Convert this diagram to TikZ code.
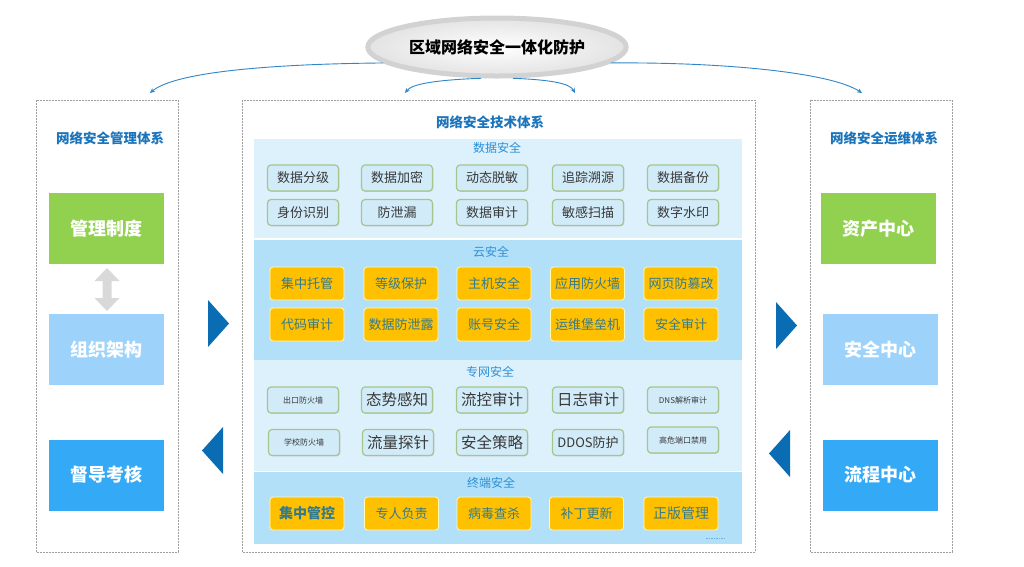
\documentclass[tikz,border=0pt]{standalone}
\usepackage{fontspec}
\setmainfont{Noto Sans CJK SC}
\usetikzlibrary{shapes.geometric,arrows.meta,shadows}
\definecolor{panelblue}{HTML}{1B75BC}
\definecolor{sectitle}{HTML}{2D8FD5}
\definecolor{databg}{HTML}{DDF1FC}
\definecolor{cloudbg}{HTML}{B3E0F9}
\definecolor{sboxfill}{HTML}{D2EBF9}
\definecolor{sboxline}{HTML}{A4C58C}
\definecolor{orangefill}{HTML}{FFC000}
\definecolor{orangetext}{HTML}{357A8A}
\definecolor{greenbox}{HTML}{92D050}
\definecolor{lightbluebox}{HTML}{9DD3FB}
\definecolor{bluebox}{HTML}{34A9F5}
\definecolor{tri}{HTML}{0A6DB3}
\definecolor{curve}{HTML}{2E86C8}
\tikzset{
  dashbox/.style={draw=gray!75, line width=0.8pt, dash pattern=on 1.6pt off 1.4pt},
  paneltitle/.style={font=\fontsize{13.5}{15}\selectfont\bfseries, text=panelblue},
  sectitlestyle/.style={font=\fontsize{12}{14}\selectfont, text=sectitle},
  bigbox/.style={minimum width=115pt, minimum height=71pt, inner sep=0pt, text=white, font=\fontsize{18}{20}\selectfont\bfseries},
  sbox/.style={rounded corners=3.5pt, fill=sboxfill, draw=sboxline, line width=1.2pt, minimum width=71pt, minimum height=26pt, inner sep=0pt, text=black!78, font=\fontsize{13}{15}\selectfont, drop shadow={shadow xshift=0.8pt, shadow yshift=-0.8pt, opacity=0.25}},
  tinytext/.style={font=\fontsize{8}{9}\selectfont},
  obox/.style={rounded corners=3pt, fill=orangefill, draw=yellow!30, line width=0.8pt, minimum width=74pt, minimum height=33pt, inner sep=0pt, text=orangetext, font=\fontsize{13}{15}\selectfont},
  curvearrow/.style={draw=curve, line width=0.9pt, -{Stealth[length=5pt,width=4.5pt]}},
}
\begin{document}
\begin{tikzpicture}[x=1pt,y=-1pt]
\useasboundingbox (0,0) rectangle (1024,566);
\fill[white] (0,0) rectangle (1024,566);

% top ellipse
\node[ellipse, minimum width=228pt, minimum height=58pt, draw=gray!35, line width=5pt, inner color=white, outer color=gray!22, font=\fontsize{16}{18}\selectfont\bfseries, text=black] (top) at (497,47) {区域网络安全一体化防护};

% dashed panels
\draw[dashbox] (36,100) rectangle (178,552);
\draw[dashbox] (242,100) rectangle (755,552);
\draw[dashbox] (810,100) rectangle (952,552);

\coordinate (la) at (150,93);
\coordinate (ra) at (862,93);
\coordinate (ca) at (405,93);
\coordinate (cb) at (575,93);
\draw[curvearrow] (top.188) .. controls (270,64) and (175,72) .. (la);
\draw[curvearrow] (top.-8) .. controls (720,62) and (830,72) .. (ra);
\draw[curvearrow] (top.243) .. controls (435,80) and (412,84) .. (ca);
\draw[curvearrow] (top.-63) .. controls (555,80) and (570,84) .. (cb);

% left panel
\node[paneltitle] (lt) at (110,138) {网络安全管理体系};
\node[bigbox, fill=greenbox] (l1) at (106,228.5) {管理制度};
\node[bigbox, fill=lightbluebox] (l2) at (106,349.5) {组织架构};
\node[bigbox, fill=bluebox] (l3) at (106,475) {督导考核};
\fill[gray!30] (107,268) -- (119.5,281) -- (111.5,281) -- (111.5,298) -- (119.5,298) -- (107,311) -- (94.5,298) -- (102.5,298) -- (102.5,281) -- (94.5,281) -- cycle;

% right panel
\node[paneltitle] (rt) at (884,138) {网络安全运维体系};
\node[bigbox, fill=greenbox] (r1) at (878.5,228.5) {资产中心};
\node[bigbox, fill=lightbluebox] (r2) at (880,349.5) {安全中心};
\node[bigbox, fill=bluebox] (r3) at (880,475) {流程中心};

% triangles
\fill[tri] (208,300) -- (229,323.5) -- (208,347) -- cycle;
\fill[tri] (223,427) -- (202,450.5) -- (223,474) -- cycle;
\fill[tri] (776,302) -- (797,325.5) -- (776,349) -- cycle;
\fill[tri] (790,430) -- (769,453.5) -- (790,477) -- cycle;

% center panel
\node[paneltitle] (ct) at (490,122) {网络安全技术体系};
\fill[databg] (254,139) rectangle (742,238);
\fill[cloudbg] (254,240) rectangle (742,360);
\fill[databg] (254,360) rectangle (742,471);
\fill[cloudbg] (254,472) rectangle (742,544);

% data security
\node[sectitlestyle] (s1) at (497,148) {数据安全};
\node[sbox] (d1) at (303,178) {数据分级};
\node[sbox] (d2) at (397,178) {数据加密};
\node[sbox] (d3) at (492,178) {动态脱敏};
\node[sbox] (d4) at (588,178) {追踪溯源};
\node[sbox] (d5) at (683,178) {数据备份};
\node[sbox] (d6) at (303,212.5) {身份识别};
\node[sbox] (d7) at (397,212.5) {防泄漏};
\node[sbox] (d8) at (492,212.5) {数据审计};
\node[sbox] (d9) at (588,212.5) {敏感扫描};
\node[sbox] (d10) at (683,212.5) {数字水印};

% cloud security
\node[sectitlestyle] (s2) at (491,252) {云安全};
\node[obox] (c1) at (307,283.5) {集中托管};
\node[obox] (c2) at (401,283.5) {等级保护};
\node[obox] (c3) at (494,283.5) {主机安全};
\node[obox] (c4) at (587.5,283.5) {应用防火墙};
\node[obox] (c5) at (681,283.5) {网页防篡改};
\node[obox] (c6) at (307,324.5) {代码审计};
\node[obox] (c7) at (401,324.5) {数据防泄露};
\node[obox] (c8) at (494,324.5) {账号安全};
\node[obox] (c9) at (587.5,324.5) {运维堡垒机};
\node[obox] (c10) at (681,324.5) {安全审计};

% private network security
\node[sectitlestyle] (s3) at (490,372) {专网安全};
\node[sbox, tinytext] (n1) at (303,400) {出口防火墙};
\node[sbox, font=\fontsize{15.5}{17}\selectfont] (n2) at (397,400) {态势感知};
\node[sbox, font=\fontsize{15.5}{17}\selectfont] (n3) at (492,400) {流控审计};
\node[sbox, font=\fontsize{15.5}{17}\selectfont] (n4) at (588,400) {日志审计};
\node[sbox, tinytext] (n5) at (683,400) {DNS解析审计};
\node[sbox, tinytext] (n6) at (304,442.5) {学校防火墙};
\node[sbox, font=\fontsize{15.5}{17}\selectfont] (n7) at (398,442.5) {流量探针};
\node[sbox, font=\fontsize{15.5}{17}\selectfont] (n8) at (492,442.5) {安全策略};
\node[sbox, font=\fontsize{13}{15}\selectfont] (n9) at (588,442.5) {DDOS防护};
\node[sbox, tinytext] (n10) at (683,440) {高危端口禁用};

% terminal security
\node[sectitlestyle] (s4) at (491,483) {终端安全};
\node[obox, font=\fontsize{14}{16}\selectfont\bfseries] (t1) at (307,513.5) {集中管控};
\node[obox] (t2) at (401.5,513.5) {专人负责};
\node[obox] (t3) at (494,513.5) {病毒查杀};
\node[obox] (t4) at (586.5,513.5) {补丁更新};
\node[obox, font=\fontsize{14}{16}\selectfont] (t5) at (681,513.5) {正版管理};
\draw[sectitle!70, line width=1pt, dash pattern=on 1.5pt off 1pt] (706,538) -- (725,538);
\end{tikzpicture}
\end{document}
